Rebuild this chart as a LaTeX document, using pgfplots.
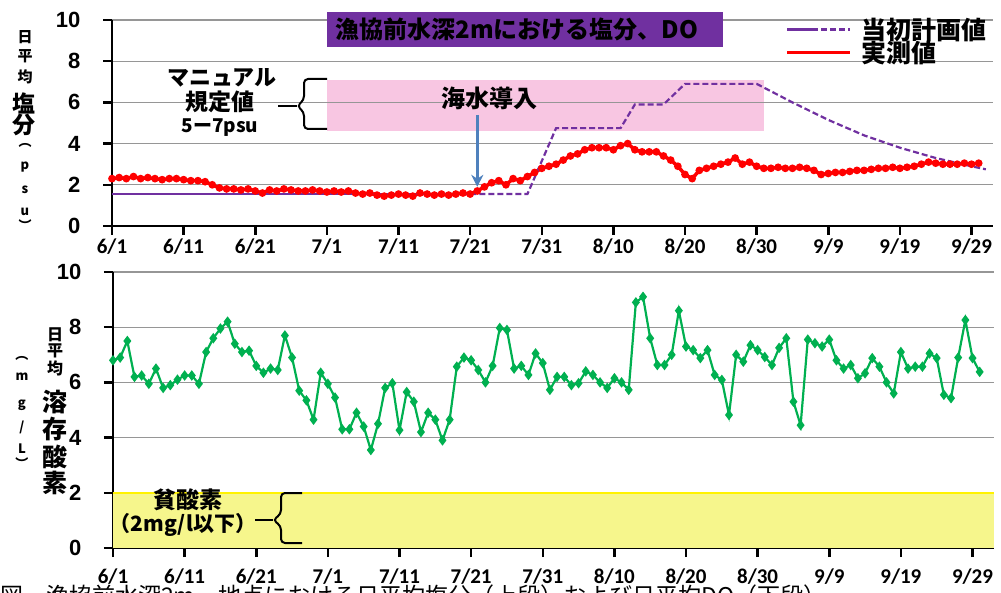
\documentclass[border=0pt]{standalone}
\usepackage{pgfplots}
\pgfplotsset{compat=1.18}
\usepackage{fontspec}
\setmainfont{Liberation Sans}
\newfontfamily\cjk{Noto Sans CJK JP}
\newfontfamily\datef{Carlito}
\usetikzlibrary{arrows.meta}
\definecolor{plan}{RGB}{112,48,160}
\definecolor{pinkbox}{RGB}{248,198,226}
\definecolor{dogreen}{RGB}{0,176,80}
\definecolor{lowdo}{RGB}{246,246,140}
\definecolor{arrowblue}{RGB}{79,129,189}
\definecolor{gridgray}{RGB}{150,150,150}
\newcommand{\fs}[1]{\fontsize{#1}{#1}\selectfont}
\newcommand{\px}[2]{(#1pt,{592pt-#2pt})}

\pgfplotsset{
  panel/.style={
    scale only axis, width=881pt,
    xmin=0, xmax=123, ymin=0, ymax=10,
    axis lines*=left,
    axis line style={line width=2.5pt},
    tick align=outside, major tick length=9pt,
    tick style={black, line width=2.5pt},
    xtick={0,10,...,120},
    xticklabels={6/1,6/11,6/21,7/1,7/11,7/21,7/31,8/10,8/20,8/30,9/9,9/19,9/29},
    ytick={0,2,...,10},
    ymajorgrids, grid style={gridgray, line width=1.2pt},
    x tick label style={font=\datef\bfseries\fs{21}},
    y tick label style={font=\bfseries\fs{22}, xshift=-19pt},
    /pgf/number format/assume math mode=true,
  }
}

\begin{document}
\begin{tikzpicture}
\path[use as bounding box] (0,0) rectangle (1001pt,592pt);

% upper panel: salinity
\begin{axis}[panel, at={(112pt,366pt)}, anchor=south west, height=206pt,
  legend style={at={(0.764,1.01)}, anchor=north west, draw=none, fill=none,
    inner sep=0pt, row sep=0pt, column sep=10pt, font=\cjk\bfseries\fs{25},
    nodes={inner sep=0pt}, cells={anchor=west}},
  ]
\addplot[fill=pinkbox, draw=none, forget plot] coordinates {(30,4.6) (91,4.6) (91,7.1) (30,7.1)} -- cycle;
\addplot[gridgray, line width=1.2pt, forget plot] coordinates {(30,6) (91,6)};
\addlegendimage{legend image code/.code={
  \draw[plan, line width=2.2pt] (0pt,0pt) -- (25pt,0pt);
  \draw[plan, line width=2.2pt, dash pattern=on 6pt off 3pt] (25pt,0pt) -- (63pt,0pt);}}
\addlegendentry{当初計画値}
\addlegendimage{legend image code/.code={
  \draw[red, line width=3.5pt] (0pt,0pt) -- (63pt,0pt);}}
\addlegendentry{実測値}
% measured
\addplot[red, line width=3.5pt, mark=*, mark size=2pt, forget plot] table {
x y
0 2.3
1 2.35
2 2.3
3 2.4
4 2.3
5 2.35
6 2.3
7 2.25
8 2.3
9 2.3
10 2.25
11 2.2
12 2.2
13 2.15
14 2.0
15 1.85
16 1.8
17 1.8
18 1.75
19 1.8
20 1.7
21 1.6
22 1.75
23 1.7
24 1.8
25 1.75
26 1.7
27 1.7
28 1.75
29 1.7
30 1.65
31 1.7
32 1.65
33 1.7
34 1.6
35 1.55
36 1.6
37 1.5
38 1.45
39 1.5
40 1.55
41 1.5
42 1.45
43 1.6
44 1.55
45 1.5
46 1.55
47 1.5
48 1.55
49 1.6
50 1.55
51 1.7
52 1.9
53 2.1
54 2.2
55 2.0
56 2.3
57 2.2
58 2.4
59 2.6
60 2.8
61 2.9
62 3.0
63 3.2
64 3.4
65 3.5
66 3.7
67 3.8
68 3.8
69 3.8
70 3.7
71 3.9
72 4.0
73 3.7
74 3.6
75 3.6
76 3.6
77 3.4
78 3.2
79 2.9
80 2.5
81 2.3
82 2.7
83 2.8
84 2.9
85 3.0
86 3.1
87 3.3
88 3.0
89 3.1
90 2.9
91 2.8
92 2.8
93 2.85
94 2.8
95 2.8
96 2.85
97 2.8
98 2.7
99 2.5
100 2.55
101 2.6
102 2.6
103 2.65
104 2.7
105 2.7
106 2.75
107 2.8
108 2.8
109 2.85
110 2.8
111 2.85
112 2.9
113 3.0
114 3.1
115 3.05
116 3.0
117 3.0
118 3.0
119 3.05
120 3.0
121 3.05
};
% initial plan
\addplot[plan, line width=2.2pt, forget plot] coordinates {(0,1.55) (45,1.55)};
\addplot[plan, line width=2.2pt, dash pattern=on 6pt off 3pt, forget plot] coordinates {
(45,1.55) (58,1.55) (62,4.75) (71,4.75) (73,5.9) (77,5.9) (80,6.9) (90,6.9)
(95,6.0) (100,5.15) (105,4.4) (110,3.8) (115,3.3) (120,2.9) (122,2.75)};
\draw[arrowblue, line width=2.5pt, -{Stealth[length=12pt,width=12pt]}]
  (axis cs:51,5.4) -- (axis cs:51,1.9);
\end{axis}

% lower panel: dissolved oxygen
\begin{axis}[panel, at={(113pt,44pt)}, anchor=south west, height=276pt,
  x tick label style={yshift=-8pt}]
\addplot[fill=lowdo, draw=none] coordinates {(0,0) (123,0) (123,2) (0,2)} -- cycle;
\addplot[yellow, line width=2.5pt] coordinates {(0,2) (123,2)};
\addplot[dogreen, line width=2.2pt, mark=diamond*, mark size=3.5pt] table {
x y
0 6.8
1 6.9
2 7.5
3 6.2
4 6.25
5 5.95
6 6.5
7 5.8
8 5.9
9 6.1
10 6.25
11 6.25
12 5.95
13 7.1
14 7.6
15 7.95
16 8.2
17 7.4
18 7.1
19 7.15
20 6.6
21 6.35
22 6.5
23 6.45
24 7.7
25 6.9
26 5.7
27 5.35
28 4.65
29 6.35
30 5.95
31 5.45
32 4.3
33 4.3
34 4.9
35 4.4
36 3.55
37 4.5
38 5.8
39 5.97
40 4.27
41 5.65
42 5.3
43 4.2
44 4.9
45 4.65
46 3.9
47 4.65
48 6.57
49 6.9
50 6.8
51 6.45
52 6.0
53 6.6
54 7.97
55 7.9
56 6.5
57 6.6
58 6.27
59 7.05
60 6.7
61 5.73
62 6.2
63 6.2
64 5.9
65 5.97
66 6.4
67 6.27
68 6.0
69 5.8
70 6.15
71 6.0
72 5.73
73 8.9
74 9.1
75 7.6
76 6.63
77 6.63
78 7.0
79 8.6
80 7.3
81 7.17
82 6.88
83 7.17
84 6.27
85 6.09
86 4.82
87 7.0
88 6.75
89 7.35
90 7.17
91 6.92
92 6.63
93 7.25
94 7.6
95 5.3
96 4.45
97 7.55
98 7.42
99 7.3
100 7.55
101 6.8
102 6.5
103 6.63
104 6.15
105 6.33
106 6.88
107 6.57
108 6.0
109 5.6
110 7.1
111 6.5
112 6.57
113 6.57
114 7.05
115 6.88
116 5.55
117 5.43
118 6.9
119 8.26
120 6.88
121 6.38
};
\end{axis}

% title box
\fill[plan] \px{327}{12} rectangle \px{723}{47};
\node[font=\cjk\bfseries\fs{24}, inner sep=0pt] at \px{517}{29} {漁協前水深2mにおける塩分、DO};

% manual range annotation
\node[font=\cjk\bfseries\fs{22}, inner sep=0pt] at \px{222}{78} {マニュアル};
\node[font=\cjk\bfseries\fs{23}, inner sep=0pt] at \px{220}{102} {規定値};
\node[font=\cjk\bfseries\fs{19}, inner sep=0pt] at \px{220}{128} {5ー7psu};
\draw[line width=2pt, rounded corners=4pt] \px{327}{79} -- \px{304}{79} -- \px{304}{100}
  -- \px{297}{106} -- \px{304}{112} -- \px{304}{129} -- \px{327}{129};
\draw[line width=2pt] \px{278}{106} -- \px{297}{106};
\node[font=\cjk\bfseries\fs{24}, inner sep=0pt] at \px{489}{98} {海水導入};

% hypoxia annotation
\node[font=\cjk\bfseries\fs{23}, inner sep=0pt] at \px{188}{500} {貧酸素};
\node[font=\cjk\bfseries\fs{21}, inner sep=0pt] at \px{183}{525} {（2mg/l以下）};
\draw[line width=2pt, rounded corners=4pt] \px{302}{493} -- \px{281}{493} -- \px{281}{514}
  -- \px{273}{520} -- \px{281}{526} -- \px{281}{543} -- \px{302}{543};
\draw[line width=2pt] \px{255}{520} -- \px{273}{520};

% y labels, upper
\foreach \c/\y in {日/37,平/56,均/77}
  \node[font=\cjk\bfseries\fs{15}, inner sep=0pt] at \px{25}{\y} {\c};
\foreach \c/\y in {塩/103,分/125}
  \node[font=\cjk\bfseries\fs{23}, inner sep=0pt] at \px{24}{\y} {\c};
\foreach \c/\y in {︵/145,p/167,s/190,u/212,︶/225}
  \node[font=\cjk\bfseries\fs{13}, inner sep=0pt] at \px{25}{\y} {\c};

% y labels, lower
\foreach \c/\y in {日/335,平/351,均/368}
  \node[font=\cjk\bfseries\fs{16}, inner sep=0pt] at \px{55}{\y} {\c};
\foreach \c/\y in {溶/402,存/429,酸/457,素/483}
  \node[font=\cjk\bfseries\fs{25}, inner sep=0pt] at \px{55}{\y} {\c};
\node[font=\cjk\bfseries\fs{13}, inner sep=0pt] at \px{22}{358} {︵};
\node[font=\cjk\bfseries\fs{13}, inner sep=0pt] at \px{22}{377} {m};
\node[font=\cjk\bfseries\fs{13}, inner sep=0pt] at \px{22}{405} {g};
\node[font=\cjk\bfseries\fs{13}, inner sep=0pt] at \px{22}{427} {/};
\node[font=\cjk\bfseries\fs{13}, inner sep=0pt] at \px{22}{449} {L};
\node[font=\cjk\bfseries\fs{13}, inner sep=0pt] at \px{22}{463} {︶};

% figure caption, cut at the lower edge
\node[font=\cjk\fs{23}, anchor=north west, inner sep=0pt] at \px{0}{585}
  {図　漁協前水深2m　地点における日平均塩分（上段）および日平均DO（下段）};
\end{tikzpicture}
\end{document}
